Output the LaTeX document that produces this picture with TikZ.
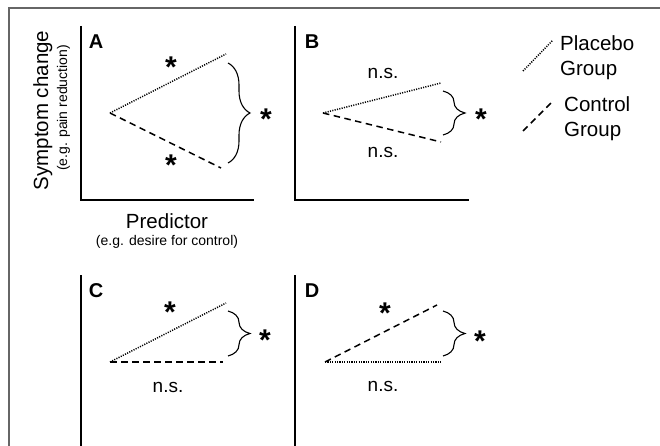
\documentclass[tikz,border=0pt]{standalone}
\usepackage{fontspec}
\setmainfont{Liberation Sans}
\usetikzlibrary{decorations.pathreplacing}
\begin{document}
\begin{tikzpicture}[x=1pt,y=-1pt,
  axis/.style={line width=2.8pt},
  plac/.style={line width=1.5pt, dash pattern=on 1.1pt off 1.3pt},
  ctrl/.style={line width=1.5pt, dash pattern=on 6.5pt off 4.5pt},
  brc/.style={decorate, decoration={brace, amplitude=22pt}, line width=1.1pt},
  star/.style={font=\fontsize{30}{30}\selectfont\bfseries, anchor=base, inner sep=0pt},
  ns/.style={font=\fontsize{19}{22}\selectfont, inner sep=0pt},
  plabel/.style={font=\fontsize{20}{22}\selectfont\bfseries, inner sep=0pt},
  big/.style={font=\fontsize{20.5}{24}\selectfont, inner sep=0pt},
  small/.style={font=\fontsize{14}{16}\selectfont, inner sep=0pt},
  leg/.style={font=\fontsize{20.5}{24}\selectfont, inner sep=0pt, anchor=base west}
]
\useasboundingbox (0,0) rectangle (660,446);
% frame
\coordinate (fbl) at (9,446);
\coordinate (ftl) at (9,8);
\coordinate (ftr) at (660,8);
\draw[line width=1.3pt, black!60] (fbl) -- (ftl) -- (ftr);

% ---------- Panel A ----------
\coordinate (aT) at (81,26);
\coordinate (aO) at (81,200);
\coordinate (aR) at (254,200);
\draw[axis] (aT) -- (aO) -- (aR);
\node[plabel] (lA) at (96,42) {A};
\coordinate (a0) at (110,113);
\coordinate (aP) at (226,54);
\coordinate (aC) at (221,168);
\draw[plac] (a0) -- (aP);
\draw[ctrl] (a0) -- (aC);
\node[star] (aS1) at (171,78) {*};
\node[star] (aS2) at (171,176) {*};
\coordinate (aBt) at (228,63);
\coordinate (aBb) at (228,163);
\draw[brc] (aBt) -- (aBb);
\node[star] (aS3) at (266,130) {*};
\node[big, rotate=90, anchor=base] (ylab) at (48,110.5) {Symptom change};
\node[small, rotate=90, anchor=base] (ylab2) at (67,108) {(e.g. pain reduction)};
\node[big, anchor=base] (xlab) at (167,228) {Predictor};
\node[small, anchor=base] (xlab2) at (167,245) {(e.g. desire for control)};

% ---------- Panel B ----------
\coordinate (bT) at (295,26);
\coordinate (bO) at (295,200);
\coordinate (bR) at (469,200);
\draw[axis] (bT) -- (bO) -- (bR);
\node[plabel] (lB) at (312,42) {B};
\coordinate (b0) at (323,113);
\coordinate (bP) at (441,83);
\coordinate (bC) at (441,142);
\draw[plac] (b0) -- (bP);
\draw[ctrl] (b0) -- (bC);
\node[ns] (bN1) at (383,73) {n.s.};
\node[ns] (bN2) at (383,152) {n.s.};
\coordinate (bBt) at (443,91);
\coordinate (bBb) at (443,135);
\draw[brc] (bBt) -- (bBb);
\node[star] (bS3) at (481,130) {*};

% ---------- Legend ----------
\coordinate (lp1) at (523,71);
\coordinate (lp2) at (553,40);
\draw[plac] (lp1) -- (lp2);
\node[leg] (lpt1) at (560,51) {Placebo};
\node[leg] (lpt2) at (560,76) {Group};
\coordinate (lc1) at (523,131);
\coordinate (lc2) at (553,101);
\draw[ctrl] (lc1) -- (lc2);
\node[leg] (lct1) at (564,112) {Control};
\node[leg] (lct2) at (564,137) {Group};

% ---------- Panel C ----------
\coordinate (cT) at (81,275);
\coordinate (cB) at (81,446);
\draw[axis] (cT) -- (cB);
\node[plabel] (lC) at (96,291) {C};
\coordinate (c0) at (110,362);
\coordinate (cP) at (226,303);
\coordinate (cC) at (223,362);
\draw[plac] (c0) -- (cP);
\draw[ctrl] (c0) -- (cC);
\node[star] (cS1) at (170,322) {*};
\node[ns] (cN) at (168,387) {n.s.};
\coordinate (cBt) at (228,311);
\coordinate (cBb) at (228,356);
\draw[brc] (cBt) -- (cBb);
\node[star] (cS3) at (265,350) {*};

% ---------- Panel D ----------
\coordinate (dT) at (295,275);
\coordinate (dB) at (295,446);
\draw[axis] (dT) -- (dB);
\node[plabel] (lD) at (312,291) {D};
\coordinate (d0) at (325,362);
\coordinate (dC) at (437,305);
\coordinate (dP) at (441,362);
\draw[ctrl] (d0) -- (dC);
\draw[plac] (d0) -- (dP);
\node[star] (dS1) at (385,323) {*};
\node[ns] (dN) at (383,386) {n.s.};
\coordinate (dBt) at (443,311);
\coordinate (dBb) at (443,356);
\draw[brc] (dBt) -- (dBb);
\node[star] (dS3) at (480,351) {*};
\end{tikzpicture}
\end{document}
